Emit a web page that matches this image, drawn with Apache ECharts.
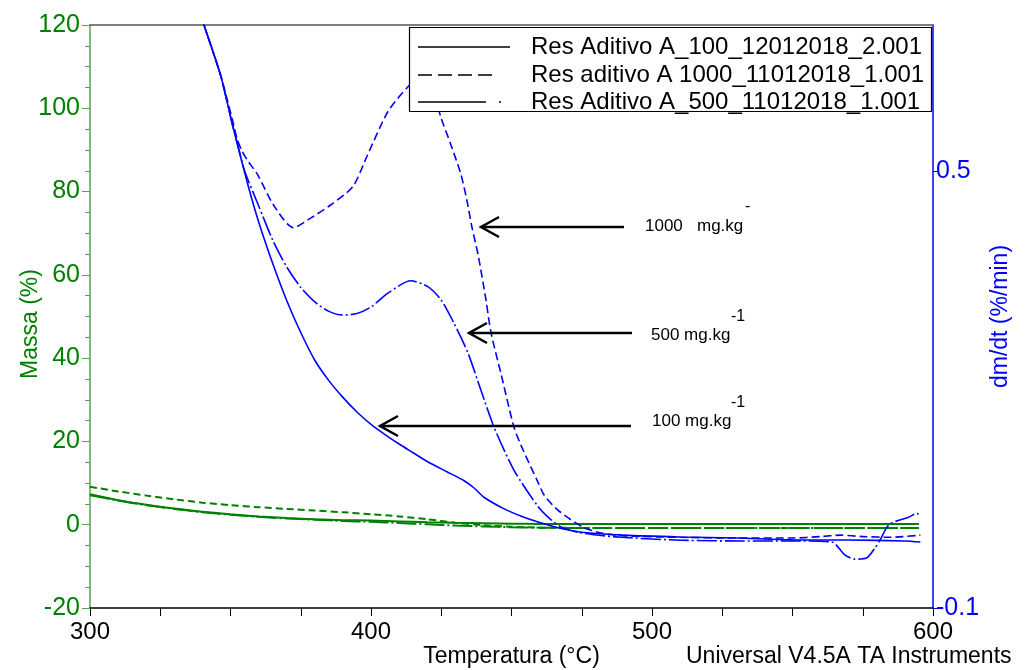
<!DOCTYPE html>
<html><head><meta charset="utf-8">
<script src="https://cdn.jsdelivr.net/npm/echarts@6/dist/echarts.min.js"></script>
<style>html,body{margin:0;padding:0;background:#fff}#c{width:1032px;height:670px}</style>
</head><body><div id="c"></div>
<script>
const FONT = '"Liberation Sans", Arial, Helvetica, sans-serif';

const legendLabels = ['Res Aditivo A_100_12012018_2.001', 'Res aditivo A 1000_11012018_1.001', 'Res Aditivo A_500_11012018_1.001'];
const annotationLabels = [['1000   mg.kg', '-'], ['500 mg.kg', '-1'], ['100 mg.kg', '-1']];

// Mass (%) curves  [temperature °C, mass %]  (left axis)
const tga100 = [[300,7.3],[310,5.9],[320,4.8],[330,3.9],[340,3.1],[350,2.5],[360,2.0],[370,1.6],[380,1.3],[390,1.1],[400,1.0],[410,0.8],[420,0.6],[430,0.45],[440,0.35],[450,0.25],[460,0.2],[500,0.2],[550,0.2],[595,0.2]];
const tga1000 = [[300,9.1],[310,8.0],[320,7.0],[330,6.1],[340,5.3],[350,4.7],[360,4.2],[370,3.8],[380,3.4],[390,3.0],[400,2.5],[410,2.0],[420,1.3],[430,0.5],[440,-0.1],[450,-0.5],[460,-0.7],[480,-0.8],[540,-0.8],[595,-0.8]];
const tga500 = [[300,7.1],[310,5.8],[320,4.7],[330,3.8],[340,3.0],[350,2.4],[360,1.9],[370,1.5],[380,1.2],[390,0.9],[400,0.7],[410,0.4],[420,0.1],[430,-0.2],[440,-0.4],[450,-0.6],[460,-0.7],[480,-0.8],[540,-0.8],[595,-0.8]];

// Derivative curves  [temperature °C, dm/dt %/min]  (right axis)
const dtg100 = [[338,0.73],[340.3,0.703],[346.4,0.632],[350.7,0.563],[355.9,0.485],[360,0.43],[365,0.373],[370,0.322],[375,0.278],[380,0.240],[385,0.212],[390,0.189],[395,0.169],[400,0.152],[405,0.138],[410,0.125],[415,0.113],[420,0.101],[427,0.087],[433,0.075],[436.6,0.065],[440.2,0.052],[447.4,0.036],[453.5,0.026],[459.5,0.018],[467.7,0.009],[475,0.004],[490,0.000],[510,-0.0025],[530,-0.004],[550,-0.0065],[570,-0.0067],[590,-0.008],[595.5,-0.0095]];
const dtg1000 = [[338,0.73],[340.3,0.703],[346.4,0.632],[349,0.595],[351,0.565],[352.4,0.543],[354,0.528],[355.9,0.515],[359.6,0.495],[365.3,0.453],[372.4,0.422],[378.5,0.435],[385.6,0.453],[393.5,0.478],[398.8,0.522],[406.0,0.581],[413.1,0.615],[418.4,0.632],[422.0,0.611],[424.9,0.573],[428.4,0.536],[432.0,0.495],[434.1,0.460],[435.9,0.423],[438.1,0.385],[440.9,0.323],[442.7,0.278],[446.3,0.221],[450.9,0.148],[454.1,0.117],[459.5,0.072],[461.6,0.055],[466.3,0.035],[471.2,0.021],[475.9,0.010],[481.9,0.003],[490,-0.001],[510,-0.003],[530,-0.004],[550,-0.004],[560,-0.002],[567,0.000],[575,-0.002],[585,-0.003],[595.5,0.000]];
const dtg500 = [[338,0.73],[340.3,0.703],[346.4,0.632],[350.7,0.563],[352.8,0.532],[355,0.500],[360,0.452],[365,0.405],[370,0.368],[375,0.340],[380,0.320],[385,0.307],[390,0.302],[395,0.304],[400,0.313],[406.0,0.332],[414.2,0.349],[420.2,0.341],[424.9,0.323],[429.5,0.291],[434.5,0.250],[439.1,0.199],[443.8,0.148],[450.9,0.089],[459.5,0.039],[464.1,0.021],[467.7,0.011],[474.8,0.003],[489.1,-0.003],[510.5,-0.007],[531.9,-0.008],[549.7,-0.008],[564.0,-0.0095],[568.6,-0.027],[572.2,-0.033],[576.5,-0.031],[579.3,-0.018],[581.1,-0.007],[583.6,0.011],[585.4,0.017],[591.5,0.025],[594.3,0.030],[595.4,0.025]];

const BLUE = '#0000ff', GREEN = '#008000', AXGREEN = '#4fa64f';
const DASH = [8, 4], DASHDOT = [20, 3, 2, 3];

function mk(name, data, color, type, width, yIdx) {
  return { name, type: 'line', data, xAxisIndex: 0, yAxisIndex: yIdx, showSymbol: false, symbol: 'none',
    smooth: 0.25, clip: true, silent: true, animation: false, lineStyle: { color, width, type } };
}

const chart = echarts.init(document.getElementById('c'), null, { renderer: 'canvas' });

const txt = (x, y, text, size, extra) => Object.assign({ type: 'text', x, y, z: 120,
  style: Object.assign({ text, font: size + 'px ' + FONT, fill: '#000', textAlign: 'left', textVerticalAlign: 'middle' }, extra || {}) });
const seg = (x1, y1, x2, y2, w, dash) => ({ type: 'line', z: 120, shape: { x1, y1, x2, y2 },
  style: { stroke: '#000', lineWidth: w, lineDash: dash || null } });
const arrow = (tipX, y, endX) => [
  seg(tipX, y, endX, y, 2.5),
  { type: 'polyline', z: 120, shape: { points: [[tipX + 18, y - 10], [tipX, y], [tipX + 18, y + 10]] }, style: { stroke: '#000', lineWidth: 2.5, fill: null } }
];

const graphics = [
  // legend box
  { type: 'rect', z: 110, shape: { x: 409.5, y: 27.5, width: 522, height: 84 }, style: { fill: '#fff', stroke: '#000', lineWidth: 1.2 } },
  seg(418, 47, 510, 47, 1.6),
  seg(418, 75, 492, 75, 1.6, [14, 6]),
  seg(418, 102, 486, 102, 1.6),
  seg(499, 102, 501, 102, 1.6),
  txt(531, 47, legendLabels[0], 24),
  txt(531, 75, legendLabels[1], 24),
  txt(531, 102, legendLabels[2], 24),
  // annotations
  ...arrow(481, 227, 624),
  ...arrow(469, 333, 632),
  ...arrow(380, 426, 631),
  txt(645, 226, annotationLabels[0][0], 17),
  txt(745, 207, annotationLabels[0][1], 16),
  txt(651, 335, annotationLabels[1][0], 17),
  txt(731, 317, annotationLabels[1][1], 16),
  txt(652, 421, annotationLabels[2][0], 17),
  txt(731, 403, annotationLabels[2][1], 16),
  // left axis name
  { type: 'text', x: 31, y: 324, rotation: Math.PI / 2, z: 120,
    style: { text: 'Massa (%)', font: '23px ' + FONT, fill: GREEN, textAlign: 'center', textVerticalAlign: 'middle' } },
  // footer
  txt(686, 657, 'Universal V4.5A TA Instruments', 23)
];

chart.setOption({
  animation: false,
  backgroundColor: '#fff',
  textStyle: { fontFamily: FONT },
  grid: { left: 90, right: 99, top: 25, bottom: 62, containLabel: false, outerBoundsMode: 'none' },
  xAxis: [
    { type: 'value', position: 'bottom', min: 300, max: 600, interval: 25,
      name: 'Temperatura (°C)', nameLocation: 'middle', nameGap: 37, nameMoveOverlap: false,
      nameTextStyle: { color: '#000', fontSize: 23, fontFamily: FONT },
      axisLine: { show: true, onZero: false, lineStyle: { color: '#000', width: 1.5 } },
      axisTick: { show: true, inside: false, length: 8, lineStyle: { color: '#000', width: 1 } },
      axisLabel: { show: true, margin: 12, color: '#000', fontSize: 24, fontFamily: FONT,
        formatter: v => (v % 100 === 0 ? String(v) : '') },
      splitLine: { show: false } },
    { type: 'value', position: 'top', min: 300, max: 600,
      axisLine: { show: true, onZero: false, lineStyle: { color: '#555', width: 1.5 } },
      axisTick: { show: false }, axisLabel: { show: false }, splitLine: { show: false } }
  ],
  yAxis: [
    { type: 'value', position: 'left', min: -20, max: 120, interval: 20,
      axisLine: { show: true, onZero: false, lineStyle: { color: AXGREEN, width: 1.5 } },
      axisTick: { show: true, inside: false, length: 8, lineStyle: { color: AXGREEN, width: 1 } },
      minorTick: { show: true, splitNumber: 4, length: 5, lineStyle: { color: AXGREEN, width: 1 } },
      axisLabel: { show: true, margin: 10, color: GREEN, fontSize: 25, fontFamily: FONT },
      splitLine: { show: false }, minorSplitLine: { show: false } },
    { type: 'value', position: 'right', min: -0.1, max: 0.7,
      name: 'dm/dt (%/min)', nameLocation: 'middle', nameGap: 56, nameRotate: 90, nameMoveOverlap: false,
      nameTextStyle: { color: BLUE, fontSize: 23, fontFamily: FONT },
      axisLine: { show: true, onZero: false, lineStyle: { color: BLUE, width: 1.5 } },
      axisTick: { show: true, inside: false, length: 5, customValues: [-0.1, 0.5], lineStyle: { color: BLUE, width: 1 } },
      axisLabel: { show: true, margin: 3, color: BLUE, fontSize: 25, fontFamily: FONT, customValues: [-0.1, 0.5],
        formatter: v => (Math.round(v * 10) / 10).toString() },
      splitLine: { show: false } }
  ],
  series: [
    mk('tga100', tga100, GREEN, 'solid', 2, 0),
    mk('tga1000', tga1000, GREEN, [7, 4], 2, 0),
    mk('tga500', tga500, GREEN, DASHDOT, 2, 0),
    mk('dtg100', dtg100, BLUE, 'solid', 1.6, 1),
    mk('dtg1000', dtg1000, BLUE, DASH, 1.6, 1),
    mk('dtg500', dtg500, BLUE, DASHDOT, 1.6, 1)
  ],
  graphic: graphics
});
</script>
</body></html>
